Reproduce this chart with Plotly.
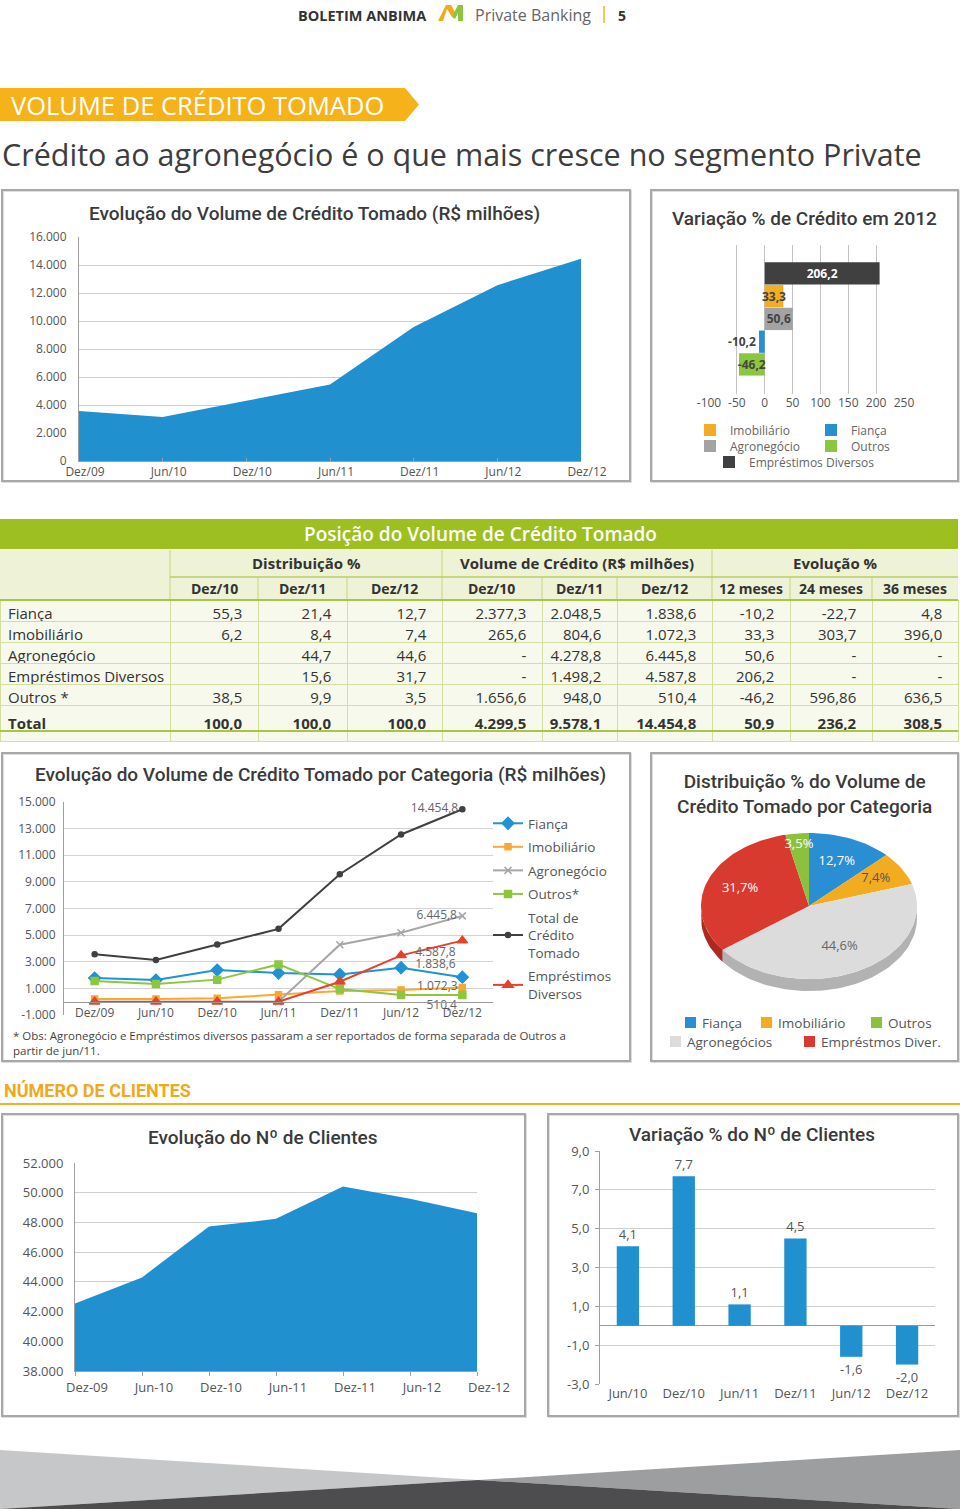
import math
import plotly.graph_objects as go

W, H = 960, 1509


def X(px):
    return px / W


def Y(py):
    return 1 - py / H


# ---------------- data ----------------
periods = ["Dez/09", "Jun/10", "Dez/10", "Jun/11", "Dez/11", "Jun/12", "Dez/12"]
total_credito = [3570, 3140, 4299.5, 5470, 9578.1, 12560, 14454.8]

var_categorias = ["Imobiliário", "Fiança", "Agronegócio", "Outros", "Empréstimos Diversos"]
var_valores = [33.3, -10.2, 50.6, -46.2, 206.2]
var_ordem = ["Outros", "Fiança", "Agronegócio", "Imobiliário", "Empréstimos Diversos"]  # bottom -> top
var_ticks = [-100, -50, 0, 50, 100, 150, 200, 250]

tab_titulo = "Posição do Volume de Crédito Tomado"
tab_grupos = ["Distribuição %", "Volume de Crédito (R$ milhões)", "Evolução %"]
tab_colunas = ["Dez/10", "Dez/11", "Dez/12", "Dez/10", "Dez/11", "Dez/12", "12 meses", "24 meses", "36 meses"]
tab_linhas = ["Fiança", "Imobiliário", "Agronegócio", "Empréstimos Diversos", "Outros *", "Total"]
dist_dez10 = ["55,3", "6,2", "", "", "38,5", "100,0"]
dist_dez11 = ["21,4", "8,4", "44,7", "15,6", "9,9", "100,0"]
dist_dez12 = ["12,7", "7,4", "44,6", "31,7", "3,5", "100,0"]
vol_dez10 = ["2.377,3", "265,6", "-", "-", "1.656,6", "4.299,5"]
vol_dez11 = ["2.048,5", "804,6", "4.278,8", "1.498,2", "948,0", "9.578,1"]
vol_dez12 = ["1.838,6", "1.072,3", "6.445,8", "4.587,8", "510,4", "14.454,8"]
evo_12m = ["-10,2", "33,3", "50,6", "206,2", "-46,2", "50,9"]
evo_24m = ["-22,7", "303,7", "-", "-", "596,86", "236,2"]
evo_36m = ["4,8", "396,0", "-", "-", "636,5", "308,5"]

cat_fianca = [1775, 1625, 2377.3, 2150, 2048.5, 2550, 1838.6]
cat_imobiliario = [210, 200, 265.6, 520, 804.6, 880, 1072.3]
cat_agronegocio = [None, None, None, 0, 4278.8, 5180, 6445.8]
cat_outros = [1550, 1330, 1656.6, 2800, 948.0, 500, 510.4]
cat_total = [3570, 3140, 4299.5, 5470, 9578.1, 12560, 14454.8]
cat_emprestimos = [0, 0, 0, 0, 1498.2, 3480, 4587.8]
cat_ticks = [-1000, 1000, 3000, 5000, 7000, 9000, 11000, 13000, 15000]

pie_labels = ["Fiança", "Imobiliário", "Agronegócios", "Empréstmos Diver.", "Outros"]
pie_values = [12.7, 7.4, 44.6, 31.7, 3.5]

cli_periods = ["Dez-09", "Jun-10", "Dez-10", "Jun-11", "Dez-11", "Jun-12", "Dez-12"]
cli_total = [42550, 44300, 47720, 48240, 50410, 49600, 48610]
cli_var_periods = ["Jun/10", "Dez/10", "Jun/11", "Dez/11", "Jun/12", "Dez/12"]
cli_var = [4.1, 7.7, 1.1, 4.5, -1.6, -2.0]
cli_var_ticks = [-3, -1, 1, 3, 5, 7, 9]

# ---------------- styles ----------------
BLUE = "#2190cf"
TXT = "#555555"
GRID = "#cfcfcf"
AXL = "#a0a0a0"
TITLE_FONT = dict(family="Roboto, sans-serif", size=19, color="#3a3a3a", weight=500)
BASE_FONT = "Open Sans, sans-serif"
NBSP = "\u00a0"


def br(v, d=1):
    s = f"{v:,.{d}f}"
    return s.replace(",", "#").replace(".", ",").replace("#", ".")


fig = go.Figure()

# ---------- P1: area chart total ----------
fig.add_trace(go.Scatter(x=periods, y=total_credito, mode="none", fill="tozeroy",
                         fillcolor=BLUE, xaxis="x", yaxis="y", showlegend=False, hoverinfo="skip"))

# ---------- P2: variation 2012 ----------
var_colors = {"Imobiliário": "#f3ad25", "Fiança": "#2a8fd0", "Agronegócio": "#a3a3a3",
              "Outros": "#8cc63f", "Empréstimos Diversos": "#404040"}
var_legend = {"Imobiliário": "legend", "Fiança": "legend", "Agronegócio": "legend2",
              "Outros": "legend2", "Empréstimos Diversos": "legend3"}
for cat, val in zip(var_categorias, var_valores):
    fig.add_trace(go.Bar(
        x=[val], y=[cat], orientation="h", name=cat, marker=dict(color=var_colors[cat], line=dict(width=0)),
        width=0.98, text=[br(val)], textposition="outside" if cat == "Fiança" else "inside",
        insidetextanchor="middle", constraintext="none", cliponaxis=False, textangle=0,
        textfont=dict(size=12, color="white" if cat == "Empréstimos Diversos" else "#444", weight="bold"),
        xaxis="x2", yaxis="y2", legend=var_legend[cat], hoverinfo="skip"))

# ---------- P3: lines per category ----------
series = [
    ("Fiança", cat_fianca, "#1f93d3", "diamond", 9, "top left"),
    ("Imobiliário", cat_imobiliario, "#f7a933", "square", 6, "middle left"),
    ("Agronegócio", cat_agronegocio, "#a6a6a6", "x-thin-open", 7, "middle left"),
    ("Outros*", cat_outros, "#8dc63f", "square", 7, "bottom left"),
    ("Total de<br>Crédito<br>Tomado", cat_total, "#404040", "circle", 5, "middle left"),
    ("Empréstimos<br>Diversos", cat_emprestimos, "#e5412b", "triangle-up", 9, "bottom left"),
]
for name, vals, col, sym, ms, tpos in series:
    labels = [""] * (len(vals) - 1) + [br(vals[-1])]
    fig.add_trace(go.Scatter(
        x=periods, y=vals, name=name, mode="lines+markers+text", legendgroup=name,
        line=dict(color=col, width=2), marker=dict(symbol=sym, size=ms, color=col, line=dict(color=col, width=1.5)),
        text=labels, textposition=tpos, textfont=dict(size=12, color="#666"), cliponaxis=False,
        xaxis="x3", yaxis="y3", legend="legend4", hoverinfo="skip"))

# ---------- P4: elliptical pie ----------
pie_colors = ["#2a8fd2", "#f2ac1f", "#dcdcdc", "#d93a2f", "#8cc13f"]
pie_rim = ["#1f6fa3", "#c68a12", "#b2b2b2", "#a92b22", "#6d9a2f"]
pie_text_col = ["white", "#555", "#666", "white", "white"]
CX, CY, RX, RY, DEPTH = 809, 906, 108, 73, 12


def ell(theta_deg, dy=0.0):
    t = math.radians(theta_deg)
    return CX + RX * math.sin(t), CY - RY * math.cos(t) + dy


tot = sum(pie_values)
bounds = [0.0]
for v in pie_values:
    bounds.append(bounds[-1] + v / tot * 360.0)

# rims (front half)
for i in range(len(pie_values)):
    a, b = max(bounds[i], 90.0), min(bounds[i + 1], 270.0)
    if a >= b:
        continue
    n = max(2, int((b - a) / 2) + 1)
    angs = [a + (b - a) * k / (n - 1) for k in range(n)]
    top = [ell(t) for t in angs]
    bot = [ell(t, DEPTH) for t in reversed(angs)]
    pts = top + bot + [top[0]]
    fig.add_trace(go.Scatter(x=[p[0] for p in pts], y=[p[1] for p in pts], mode="lines", fill="toself",
                             fillcolor=pie_rim[i], line=dict(width=0, color=pie_rim[i]),
                             xaxis="x4", yaxis="y4", showlegend=False, hoverinfo="skip"))
# top faces
for i in range(len(pie_values)):
    a, b = bounds[i], bounds[i + 1]
    n = max(2, int((b - a) / 2) + 1)
    angs = [a + (b - a) * k / (n - 1) for k in range(n)]
    pts = [(CX, CY)] + [ell(t) for t in angs] + [(CX, CY)]
    fig.add_trace(go.Scatter(x=[p[0] for p in pts], y=[p[1] for p in pts], mode="lines", fill="toself",
                             fillcolor=pie_colors[i], line=dict(width=0, color=pie_colors[i]),
                             name=pie_labels[i], xaxis="x4", yaxis="y4", showlegend=False, hoverinfo="skip"))
label_r = [0.66, 0.72, 0.62, 0.68, 0.85]
lx, ly = [], []
for i in range(len(pie_values)):
    mid = math.radians((bounds[i] + bounds[i + 1]) / 2)
    lx.append(CX + label_r[i] * RX * math.sin(mid))
    ly.append(CY - label_r[i] * RY * math.cos(mid))
fig.add_trace(go.Scatter(x=lx, y=ly, mode="text", text=[br(v) + "%" for v in pie_values],
                         textfont=dict(size=13, color=pie_text_col), xaxis="x4", yaxis="y4",
                         showlegend=False, hoverinfo="skip"))

# ---------- P5: clients area ----------
fig.add_trace(go.Scatter(x=cli_periods, y=cli_total, mode="none", fill="tozeroy", fillcolor=BLUE,
                         xaxis="x5", yaxis="y5", showlegend=False, hoverinfo="skip"))

# ---------- P6: clients variation ----------
fig.add_trace(go.Bar(x=cli_var_periods, y=cli_var, marker=dict(color=BLUE, line=dict(width=0)), width=0.4,
                     text=[br(v) for v in cli_var], textposition="outside", textfont=dict(size=13, color=TXT),
                     textangle=0, cliponaxis=False, xaxis="x6", yaxis="y6", showlegend=False, hoverinfo="skip"))

# ---------- Table (body) ----------
colw = [170, 88, 89, 95, 100, 75, 95, 78, 82, 86]
PAD = NBSP * 2


def cellcol(col, right=True):
    out = []
    for k, v in enumerate(col):
        s = v.replace(" ", NBSP)
        s = s + PAD if right else s
        if k == len(col) - 1:
            s = "<b>" + s + "</b>"
        out.append(s)
    return out


cells = [cellcol(tab_linhas, right=False)] + [cellcol(c) for c in
                                                [dist_dez10, dist_dez11, dist_dez12, vol_dez10, vol_dez11,
                                                 vol_dez12, evo_12m, evo_24m, evo_36m]]
fig.add_trace(go.Table(
    domain=dict(x=[0, X(958)], y=[Y(742), Y(584)]),
    columnwidth=colw,
    header=dict(values=[""] * len(colw), height=16, fill=dict(color="rgba(0,0,0,0)"),
                line=dict(width=0, color="rgba(0,0,0,0)")),
    cells=dict(values=cells, height=21, fill=dict(color="#f7f9ec"), line=dict(color="#d3dea0", width=1),
               font=dict(family=BASE_FONT, size=15, color="#333"), align=["left"] + ["right"] * 9),
))

# ---------------- layout ----------------
ax_common = dict(showgrid=False, zeroline=False, tickfont=dict(size=12, color=TXT, family=BASE_FONT))

layout = dict(
    width=W, height=H, margin=dict(l=0, r=0, t=0, b=0, autoexpand=False), paper_bgcolor="white",
    plot_bgcolor="rgba(0,0,0,0)", separators=",.", barmode="overlay",
    font=dict(family=BASE_FONT, color=TXT),
    # P1
    xaxis=dict(ax_common, domain=[X(79), X(581)], type="category", range=[0, 6], anchor="y",
               showline=True, linecolor=AXL, ticks="inside", ticklen=3, tickcolor=AXL, ticklabelshift=6),
    yaxis=dict(ax_common, domain=[Y(461), Y(237)], range=[0, 16000], tick0=0, dtick=2000, tickformat=",d",
               showgrid=True, gridcolor=GRID, showline=True, linecolor=AXL, anchor="x", ticklabelstandoff=9),
    # P2
    xaxis2=dict(ax_common, domain=[X(709), X(904)], range=[-100, 250], tickvals=var_ticks,
                ticktext=[str(v) for v in var_ticks], showgrid=True,
                gridcolor="#c4c4c4", anchor="y2", tickangle=0),
    yaxis2=dict(ax_common, domain=[Y(394), Y(245)], type="category", categoryorder="array",
                categoryarray=var_ordem, range=[-1.3, 5.25], showticklabels=False, anchor="x2"),
    # P3
    xaxis3=dict(ax_common, domain=[X(64), X(493)], type="category", range=[-0.5, 6.5], anchor="free",
                position=Y(1002), showline=True, linecolor="#9a9a9a", tickangle=0),
    yaxis3=dict(ax_common, domain=[Y(1015), Y(802)], range=[-1000, 15000], tickvals=cat_ticks,
                ticktext=[br(v, 0) for v in cat_ticks], showgrid=True, gridcolor="#d3d3d3",
                showline=True, linecolor=AXL, anchor="x3", ticklabelstandoff=5),
    # P4
    xaxis4=dict(domain=[X(680), X(940)], range=[680, 940], visible=False, anchor="y4"),
    yaxis4=dict(domain=[Y(1000), Y(820)], range=[1000, 820], visible=False, anchor="x4"),
    # P5
    xaxis5=dict(ax_common, domain=[X(75), X(477)], type="category", range=[0, 6], anchor="y5",
                showline=True, linecolor=AXL, ticks="outside", ticklen=4, tickcolor=AXL, ticklabelshift=12,
                tickangle=0, tickfont=dict(size=13, color=TXT, family=BASE_FONT)),
    yaxis5=dict(ax_common, domain=[Y(1371), Y(1163)], range=[38000, 52000], tick0=38000, dtick=2000,
                tickformat=",d", showgrid=True, gridcolor=GRID, showline=True, linecolor=AXL, anchor="x5",
                ticklabelstandoff=8, tickfont=dict(size=13, color=TXT, family=BASE_FONT)),
    # P6
    xaxis6=dict(ax_common, domain=[X(600), X(935)], type="category", anchor="y6", tickangle=0,
                tickfont=dict(size=13, color=TXT, family=BASE_FONT)),
    yaxis6=dict(ax_common, domain=[Y(1384), Y(1151)], range=[-3, 9], tickvals=cli_var_ticks,
                ticktext=[br(v) for v in cli_var_ticks],
                showgrid=True, gridcolor=GRID, showline=True, linecolor=AXL, ticks="outside", ticklen=4,
                tickcolor=AXL, zeroline=True, zerolinecolor="#9a9a9a", zerolinewidth=1, anchor="x6",
                ticklabelstandoff=3, tickfont=dict(size=13, color=TXT, family=BASE_FONT)),
    # legends
    legend=dict(x=X(690), y=Y(430), xanchor="left", yanchor="middle", orientation="h", entrywidth=76,
                font=dict(size=12, color="#666"), bgcolor="rgba(0,0,0,0)", itemwidth=30),
    legend2=dict(x=X(690), y=Y(446), xanchor="left", yanchor="middle", orientation="h", entrywidth=76,
                 font=dict(size=12, color="#666"), bgcolor="rgba(0,0,0,0)", itemwidth=30),
    legend3=dict(x=X(709), y=Y(462), xanchor="left", yanchor="middle", orientation="h",
                 font=dict(size=12, color="#666"), bgcolor="rgba(0,0,0,0)", itemwidth=30),
    legend4=dict(x=X(488), y=Y(808), xanchor="left", yanchor="top", orientation="v",
                 traceorder="grouped", tracegroupgap=3,
                 font=dict(size=13.5, color="#555"), bgcolor="rgba(0,0,0,0)", itemwidth=30),
)
fig.update_layout(**layout)

shapes = []
ann = []


def rect(x0, y0, x1, y1, **kw):
    d = dict(type="rect", xref="paper", yref="paper", x0=X(x0), x1=X(x1), y0=Y(y1), y1=Y(y0))
    d.update(kw)
    shapes.append(d)


def line(x0, y0, x1, y1, color, width):
    shapes.append(dict(type="line", xref="paper", yref="paper", x0=X(x0), x1=X(x1), y0=Y(y0), y1=Y(y1),
                       line=dict(color=color, width=width)))


def path(pts, color):
    d = "M" + " L".join(f"{X(a):.5f},{Y(b):.5f}" for a, b in pts) + " Z"
    shapes.append(dict(type="path", xref="paper", yref="paper", path=d, fillcolor=color,
                       line=dict(width=0)))


def text(x, y, s, size, color="#333", xanchor="center", family=BASE_FONT, weight="normal", yanchor="middle"):
    ann.append(dict(x=X(x), y=Y(y), xref="paper", yref="paper", text=s, showarrow=False, xanchor=xanchor,
                    yanchor=yanchor, font=dict(size=size, color=color, family=family, weight=weight)))


# header
text(428, 15, "BOLETIM ANBIMA", 14.5, "#333", xanchor="right", weight="bold")
path([(438, 21), (446, 5), (451, 5), (455, 12), (452, 17), (447, 9), (443, 21)], "#f2a91a")
path([(452, 17), (456, 9), (458, 5), (463, 5), (463, 21), (458, 21), (458, 13), (455, 19)], "#8cc63f")
text(473, 15, "Private Banking", 16, "#666", xanchor="left")
line(604, 6, 604, 23, "#f0b323", 1.5)
text(622, 15, "5", 14, "#333", weight="bold")

# banner + subtitle
path([(0, 88), (405, 88), (419, 104.5), (405, 121), (0, 121)], "#f6b21b")
text(9, 105, "VOLUME DE CRÉDITO TOMADO", 25.5, "white", xanchor="left")
text(0, 154, "Crédito ao agronegócio é o que mais cresce no segmento Private", 30.5, "#3d3d3d", xanchor="left")

# panel borders
for (a, b, c, d) in [(2, 190, 630, 481), (651, 190, 958, 481), (2, 753, 630, 1061), (651, 753, 958, 1061),
                     (2, 1114, 525, 1416), (548, 1114, 958, 1416)]:
    rect(a + 1, b + 1, c + 1, d + 1, line=dict(color="#dedede", width=2))
    rect(a, b, c, d, line=dict(color="#a8a8a8", width=2))

# panel titles
text(314, 213, "Evolução do Volume de Crédito Tomado (R$ milhões)", **TITLE_FONT)
text(804, 218, "Variação % de Crédito em 2012", **TITLE_FONT)
text(320, 774, "Evolução do Volume de Crédito Tomado por Categoria (R$ milhões)", **TITLE_FONT)
text(804, 794, "Distribuição % do Volume de<br>Crédito Tomado por Categoria", **TITLE_FONT)
text(262, 1137, "Evolução do Nº de Clientes", **TITLE_FONT)
text(752, 1134, "Variação % do Nº de Clientes", **TITLE_FONT)

# footnote P3
ann.append(dict(x=X(11), y=Y(1043), xref="paper", yref="paper", showarrow=False, xanchor="left",
                yanchor="middle", align="left",
                text="* Obs: Agronegócio e Empréstimos diversos passaram a ser reportados de forma separada de Outros a<br>partir de jun/11.",
                font=dict(size=11.5, color="#444", family=BASE_FONT)))

# table title + group header + column header
rect(0, 519, 958, 549, fillcolor="#9dbf1f", line=dict(width=0))
text(480, 534, tab_titulo, 19, "white", weight=600)
rect(0, 550, 958, 600, fillcolor="#eef2d6", line=dict(width=0))
for xv in [170, 442, 712]:
    line(xv, 550, xv, 577, "#c5d67e", 1)
grp_centers = [306, 577, 835]
for g, cx in zip(tab_grupos, grp_centers):
    text(cx, 563, g, 15, "#333", weight="bold")
edges = [0]
for w_ in colw:
    edges.append(edges[-1] + w_)
for xv in edges[1:-1]:
    line(xv, 577, xv, 600, "#c5d67e", 1)
for k, c in enumerate(tab_colunas):
    text((edges[k + 1] + edges[k + 2]) / 2, 588, c, 14, "#333", weight="bold")
line(170, 577, 958, 577, "#b7cf5d", 1.5)
line(0, 600, 958, 600, "#a9c640", 2)
line(0, 731, 958, 731, "#a9c640", 2)

# pie legend (manual)
pie_leg_pos = [(685, 1023), (761, 1023), (670, 1042), (804, 1042), (871, 1023)]
for lab, (px, py), colr in zip(pie_labels, pie_leg_pos, pie_colors):
    rect(px, py - 6, px + 11, py + 5, fillcolor=colr, line=dict(width=0))
    text(px + 15, py, lab, 13.5, "#555", xanchor="left")

# NUMERO DE CLIENTES
text(2, 1090, "NÚMERO DE CLIENTES", 18, "#f0a81c", xanchor="left", family="Roboto, sans-serif", weight="bold")
line(0, 1104, 960, 1104, "#f3b11f", 2)

# footer
path([(0, 1450), (478, 1480), (0, 1509)], "#c6c7c8")
path([(960, 1450), (478, 1480), (960, 1509)], "#9d9ea0")
path([(0, 1509), (478, 1480), (960, 1509)], "#4d4d4f")

fig.update_layout(shapes=shapes, annotations=ann)
fig.write_html("out.html", config={"displayModeBar": False},
               post_script="document.body.style.margin='0px';document.body.style.overflow='hidden';")
